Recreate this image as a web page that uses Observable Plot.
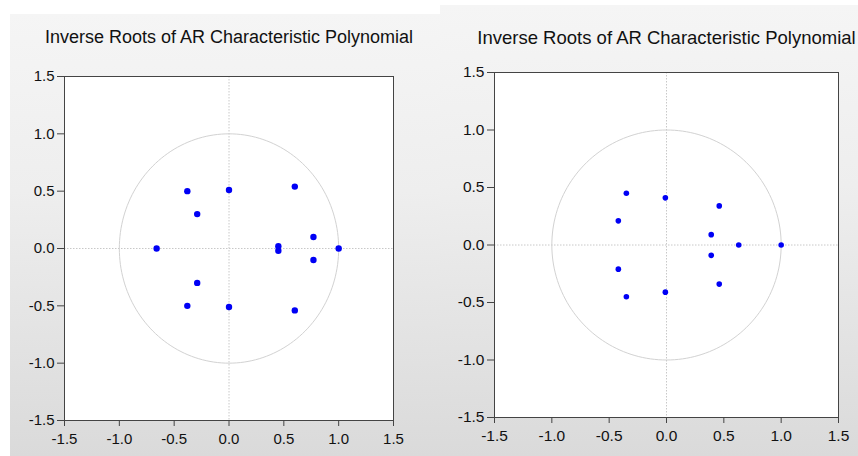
<!DOCTYPE html>
<html>
<head>
<meta charset="utf-8">
<script src="https://cdn.jsdelivr.net/npm/d3@7"></script>
<script src="https://cdn.jsdelivr.net/npm/@observablehq/plot@0.6"></script>
<style>
  html, body { margin: 0; padding: 0; background: #ffffff; width: 858px; height: 456px; overflow: hidden; }
  .panel { position: absolute; background: linear-gradient(to bottom, #f5f5f5 0%, #eeeeee 40%, #dadada 100%); overflow: hidden; }
  .panel svg { background: transparent !important; overflow: hidden; }
</style>
</head>
<body>
<div id="left" class="panel" style="left:10px; top:14px; width:430px; height:442px;"></div>
<div id="right" class="panel" style="left:440px; top:5px; width:418px; height:451px;"></div>
<script>
// Chart title
const title = "Inverse Roots of AR Characteristic Polynomial";
// Axis tick values
const ticks = [-1.5, -1.0, -0.5, 0.0, 0.5, 1.0, 1.5];

// Left panel: inverse roots (real, imaginary)
const leftRe = [-0.38, 0.00, 0.60, -0.29, -0.66, 0.45, 0.45, 0.77, 0.77, 1.00, -0.29, -0.38, 0.00, 0.60];
const leftIm = [0.50, 0.51, 0.54, 0.30, 0.00, 0.02, -0.02, 0.10, -0.10, 0.00, -0.30, -0.50, -0.51, -0.54];

// Right panel: inverse roots (real, imaginary)
const rightRe = [-0.35, -0.01, 0.46, -0.42, 0.39, 0.63, 1.00, 0.39, -0.42, -0.35, -0.01, 0.46];
const rightIm = [0.45, 0.41, 0.34, 0.21, 0.09, 0.00, 0.00, -0.09, -0.21, -0.45, -0.41, -0.34];

// Unit circle reference outline
const unitCircle = d3.range(0, 361, 2).map(a => ({x: Math.cos(a * Math.PI / 180), y: Math.sin(a * Math.PI / 180)}));

const fmt = d => d.toFixed(1);

function panel(re, im, o) {
  const pts = re.map((x, i) => ({x, y: im[i]}));
  return Plot.plot({
    width: o.width,
    height: o.height,
    marginLeft: o.ml, marginRight: o.mr, marginTop: o.mt, marginBottom: o.mb,
    style: {fontFamily: "'Liberation Sans', Arial, sans-serif", fontSize: o.tickFont + "px", color: "#111", background: "transparent"},
    x: {domain: [-1.5, 1.5], ticks, tickFormat: fmt, label: null},
    y: {domain: [-1.5, 1.5], ticks, tickFormat: fmt, label: null},
    marks: [
      Plot.frame({fill: "white", stroke: null}),
      Plot.ruleX([0], {stroke: "#c8c8c8", strokeDasharray: "1.5,1.5"}),
      Plot.ruleY([0], {stroke: "#c8c8c8", strokeDasharray: "1.5,1.5"}),
      Plot.line(unitCircle, {x: "x", y: "y", stroke: "#d2d2d2", strokeWidth: 1, curve: "linear"}),
      Plot.dot(pts, {x: "x", y: "y", r: o.r, fill: "#0000f5", stroke: null}),
      Plot.frame({stroke: "#444", strokeWidth: 1}),
      Plot.axisX({ticks, tickFormat: fmt, tickSize: 6, tickPadding: o.xpad, label: null, stroke: "#444", fontSize: o.tickFont, fill: "#111"}),
      Plot.axisY({ticks, tickFormat: fmt, tickSize: 7, tickPadding: 3, label: null, stroke: "#444", fontSize: o.tickFont, fill: "#111"}),
      Plot.text([title], {frameAnchor: "top", dy: o.titleDy, lineAnchor: "middle", fontSize: o.titleFont, fill: "#111"})
    ]
  });
}

document.getElementById("left").append(panel(leftRe, leftIm, {
  width: 430, height: 442, ml: 54, mr: 47, mt: 62, mb: 36, r: 3.2, tickFont: 15, titleFont: 18, titleDy: -39, xpad: 6.5
}));
document.getElementById("right").append(panel(rightRe, rightIm, {
  width: 418, height: 451, ml: 54, mr: 20, mt: 67, mb: 39, r: 2.8, tickFont: 15.5, titleFont: 18.5, titleDy: -34, xpad: 6
}));
</script>
</body>
</html>
